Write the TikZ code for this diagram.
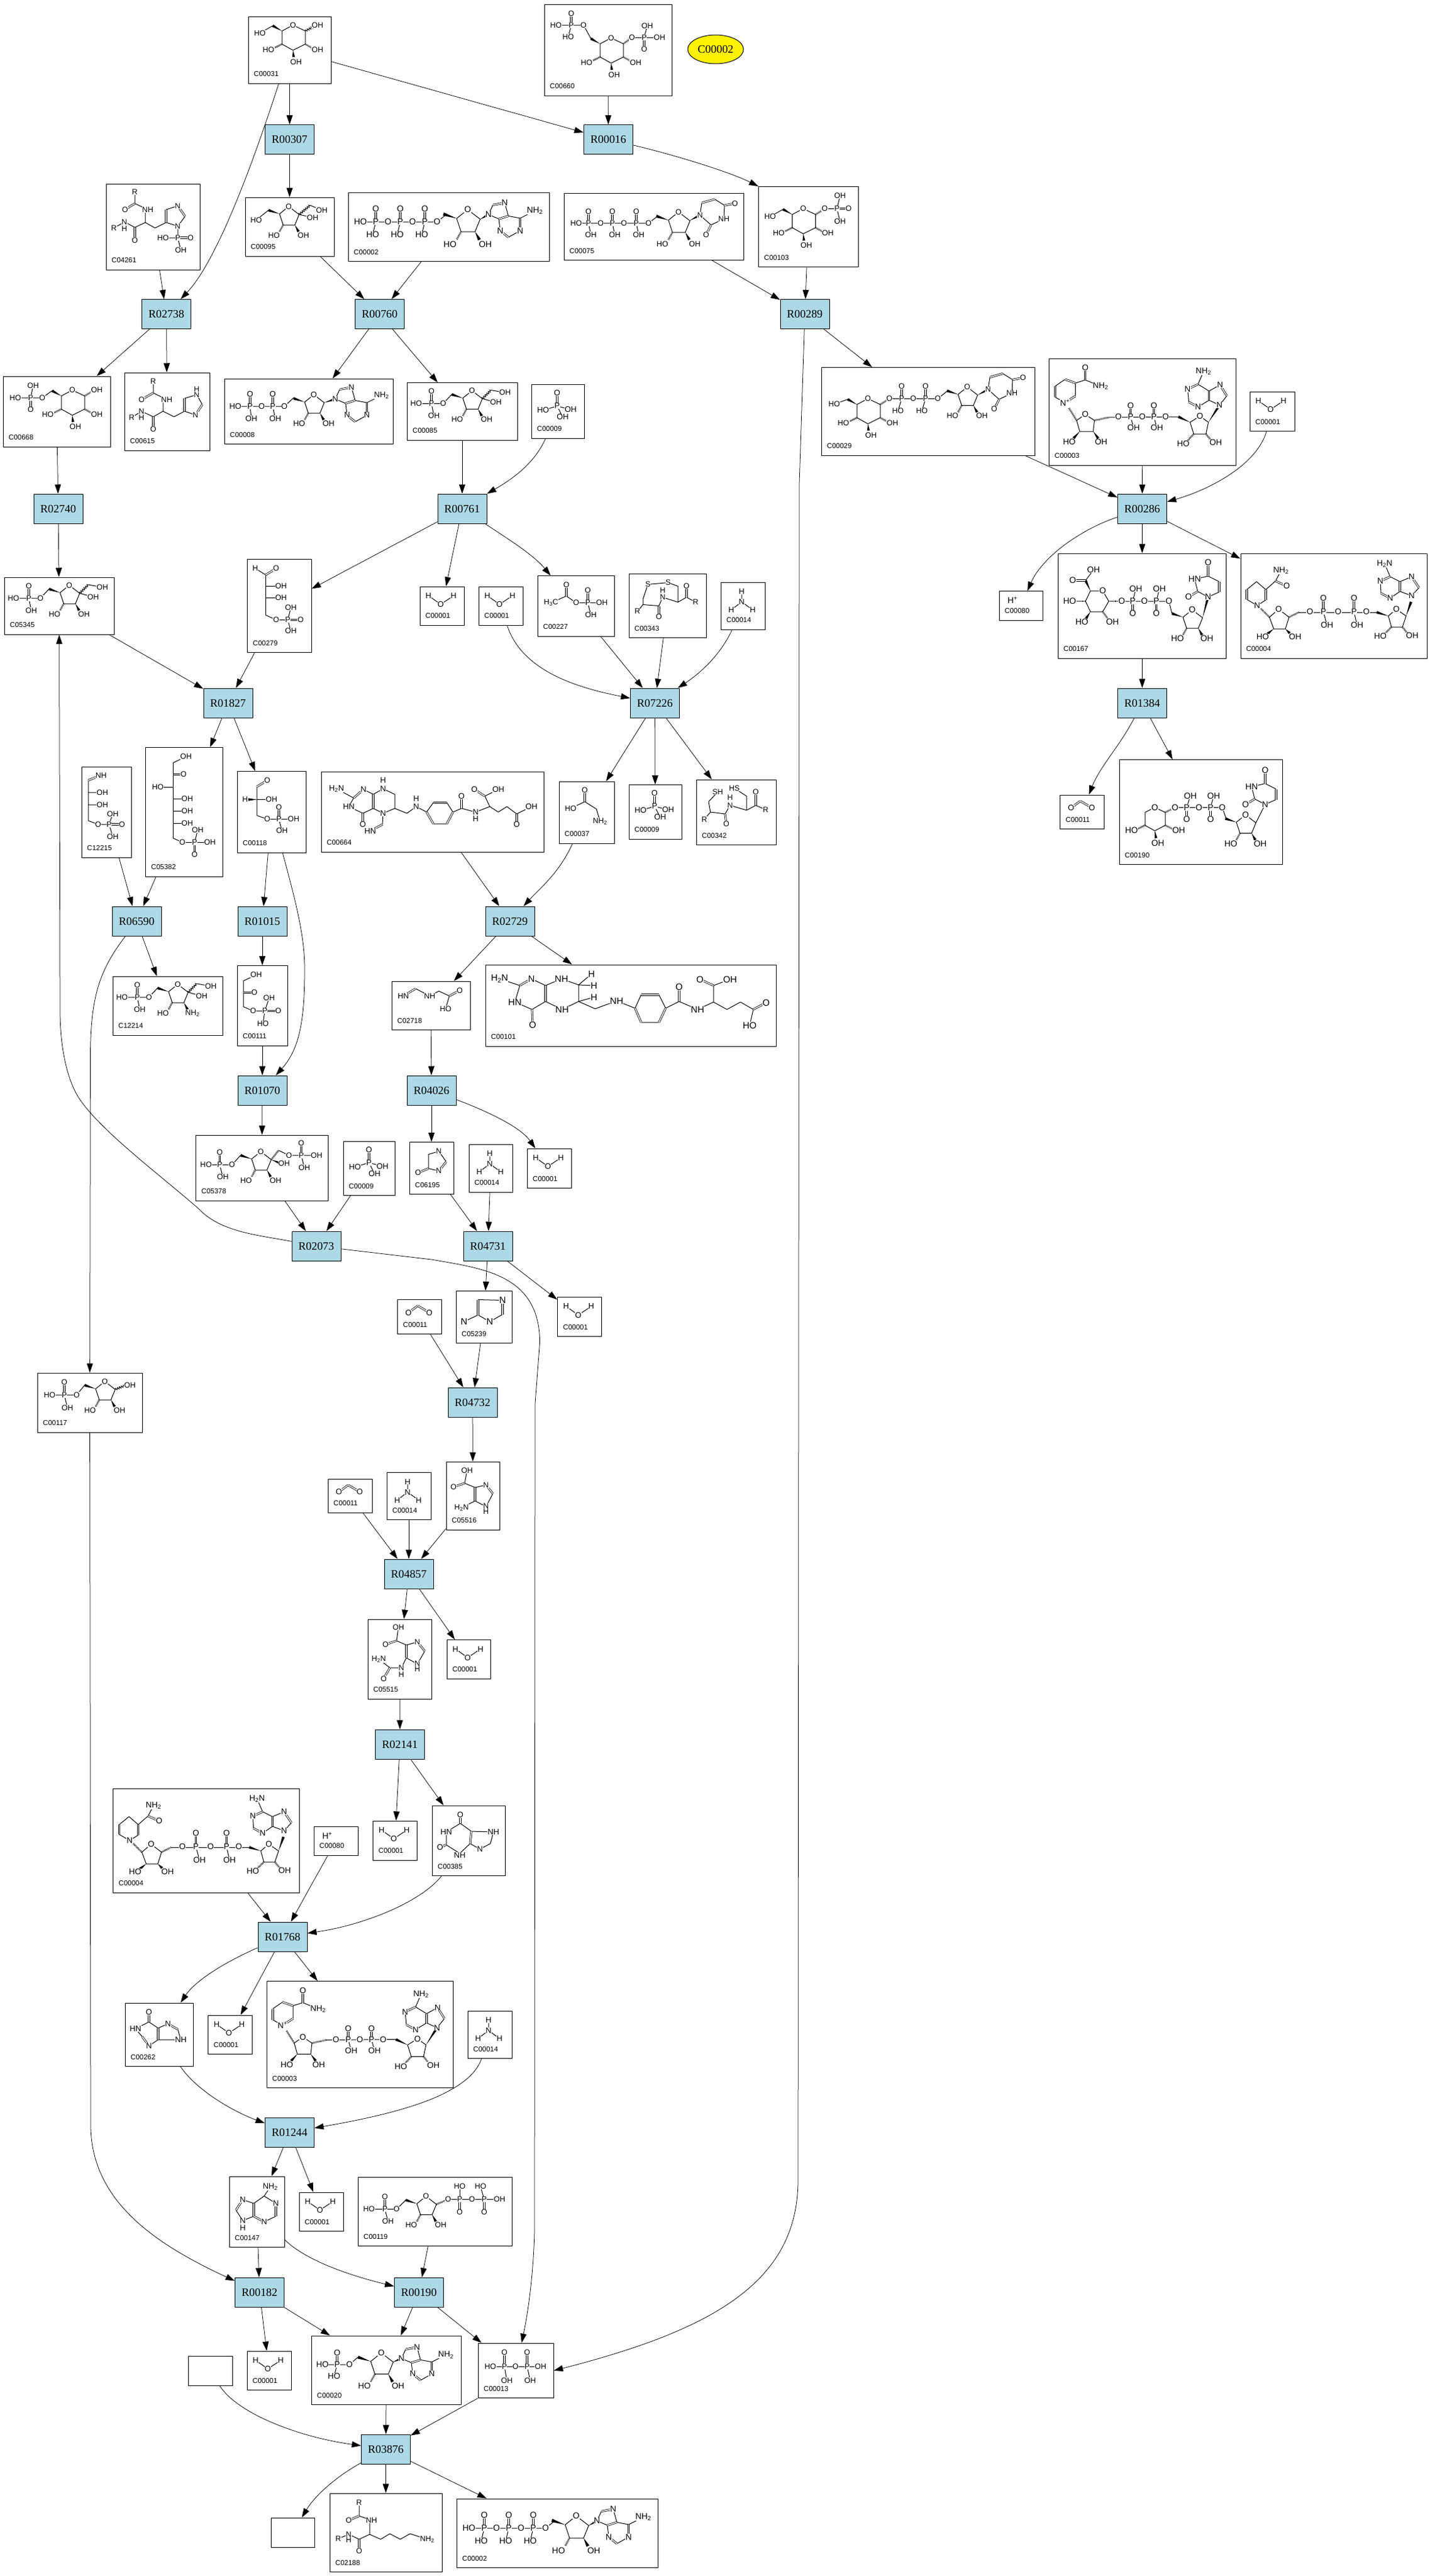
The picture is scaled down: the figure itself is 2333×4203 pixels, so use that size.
\documentclass[tikz,border=0pt]{standalone}
\usepackage{fontspec}
\setmainfont{Liberation Sans}
\newfontfamily\rmf{Liberation Serif}
\usetikzlibrary{arrows.meta,calc,shapes.geometric,decorations.pathmorphing}
\newcounter{atomc}
\def\ms{12.5}
\definecolor{lightb}{HTML}{ADD8E6}
\tikzset{
 bd/.style={line width=1pt,line join=round},
 dbl/.style={line width=.8pt,double,double distance=1.6pt},
 hs/.style={line width=2.8pt,dash pattern=on .8pt off 1.1pt},
 wv/.style={line width=1pt,decorate,decoration={zigzag,segment length=3.5pt,amplitude=1.6pt}},
 atm/.style={fill=white,inner sep=.3pt,font=\fontsize{\ms}{\ms}\selectfont},
 lbl/.style={anchor=west,inner sep=0pt,font=\fontsize{11.5}{12}\selectfont},
 cbox/.style={draw,fill=white,line width=1pt,inner sep=0pt},
 rbox/.style={draw,fill=lightb,line width=1pt,inner sep=0pt,minimum width=80pt,minimum height=48pt,font=\rmf\fontsize{18.4}{20}\selectfont},
 ed/.style={draw,line width=.75pt,-{Triangle[length=15pt,width=10pt]}},
}
\newcommand\Bd[1]{\draw[bd] #1;}
\newcommand\Db[1]{\draw[dbl] #1;}
\newcommand\Hs[2]{\draw[hs] #1 -- #2;}
\newcommand\Wv[2]{\draw[wv] #1 -- #2;}
\newcommand\Wd[2]{\fill #1 -- ($#2!2.2pt!90:#1$) -- ($#2!2.2pt!-90:#1$) -- cycle;}
\gdef\atomq{}
\newcommand\AtF[2]{\node[atm] (a#1) at (q#1) {#2};}
\def\At(#1,#2)#3{\stepcounter{atomc}\coordinate (q\arabic{atomc}) at (#1,#2);\edef\tmpn{\arabic{atomc}}\xdef\atomq{\unexpanded\expandafter{\atomq}\noexpand\AtF{\tmpn}{\unexpanded{#3}}}}
\newcommand\Rn[3]{\node[rbox] (#1) at (#2,#3) {#1};}
\newcommand\Cmp[7]{\pgfmathsetmacro\bxw{#4-#2}\pgfmathsetmacro\bxh{#5-#3}%
 \node[cbox,minimum width=\bxw pt,minimum height=\bxh pt] (#1) at ({(#2+#4)/2},{(#3+#5)/2}) {};%
 \begin{scope}[shift={(#2,#3)}]#7\atomq\gdef\atomq{}\node[lbl] (#1t) at (9,\bxh-15) {#6};\end{scope}}
% fragments
\newcommand\Pup[5]{\Db{(#1,#2)--(#1,#2-#3)}\Bd{(#1,#2)--(#1+#4,#2+#3)}\At(#1,#2){P}\At(#1,#2-#3){O}\At(#1+#4,#2+#3){#5}}
\newcommand\Pdn[5]{\Db{(#1,#2)--(#1,#2+#3)}\Bd{(#1,#2)--(#1+#4,#2-#3)}\At(#1,#2){P}\At(#1,#2+#3){O}\At(#1+#4,#2-#3){#5}}
\newcommand\PyrF[2]{\begin{scope}[shift={(#1,#2)}]\Bd{(0,0)--(20,9.5)--(20,31)--(0,41)--(-18,31)--(-18,9.5)--cycle}\Hs{(20,31)}{(31,37)}\Hs{(-18,31)}{(-30,37)}\Wd{(0,41)}{(1,52)}\Wd{(-18,9.5)}{(-33,1)}\At(0,0){O}\At(-40,40){HO}\At(40,40){OH}\At(5,60){OH}\end{scope}}
\newcommand\FurF[4][OH]{\begin{scope}[shift={(#2,#3)},scale=#4]\Bd{(0,0)--(17,13)--(10,30)--(-9,30)--(-15,12)--cycle}\Hs{(-9,30)}{(-15,41)}\Wd{(10,30)}{(16,41)}\Wd{(-15,12)}{(-33,6)}\At(0,0){O}\At(-24,47){HO}\At(24,47){#1}\end{scope}}
\newcommand\AdnF[3]{\begin{scope}[shift={(#1,#2)},scale=#3]\Bd{(0,0)--(6,-13) (22,-16)--(27,2)--(43,5) (14,6)--(0,0) (14,6)--(16,22) (27,31)--(43,22) (43,5)--(63,-5)}\Db{(6,-13)--(22,-16)}\Db{(27,2)--(14,6)}\Db{(16,22)--(27,31)}\Db{(43,22)--(43,5)}\At(0,0){N}\At(22,-16){N}\At(16,22){N}\At(43,22){N}\At(63,-5){NH\textsubscript{2}}\end{scope}}
\newcommand\UraA[2]{\begin{scope}[shift={(#1,#2)}]\Bd{(0,0)--(3,-20) (24,-26)--(40,-16)--(39,6)--(18,16)--(0,0)}\Db{(3,-20)--(24,-26)}\Db{(40,-16)--(57,-19)}\Db{(18,16)--(10,32)}\At(0,0){N}\At(39,6){NH}\At(57,-19){O}\At(10,32){O}\end{scope}}
\newcommand\UraB[2]{\begin{scope}[shift={(#1,#2)}]\Bd{(0,0)--(18,-8) (18,-25)--(0,-34)--(-22,-29)--(-17,-9)--(0,0)}\Db{(18,-8)--(18,-25)}\Db{(0,-34)--(0,-56)}\Db{(-17,-9)--(-32,0)}\At(0,0){N}\At(-22,-29){HN}\At(0,-56){O}\At(-32,0){O}\end{scope}}
% molecules
\newcommand\mWat{\def\ms{13}\Bd{(14,15)--(34,29)--(55,15)}\At(14,15){H}\At(34,29){O}\At(55,15){H}}
\newcommand\mNH{\def\ms{13}\Bd{(34,15)--(34,32)--(17,45) (34,32)--(52,45)}\At(34,15){H}\At(34,32){N}\At(17,45){H}\At(52,45){H}}
\newcommand\mCO{\def\ms{13}\Db{(18,21)--(33,10)}\Db{(33,10)--(52,21)}\At(18,21){O}\At(52,21){O}}
\newcommand\mPi{\def\ms{13}\Db{(42,14)--(42,35)}\Bd{(42,35)--(19,42) (42,35)--(64,41) (42,35)--(51,53)}\At(42,14){O}\At(42,35){P}\At(19,42){HO}\At(64,41){OH}\At(51,53){OH}}
\newcommand\mHp{\def\ms{14}\At(22,15){H\textsuperscript{+}}}
\newcommand\mATP{\def\ms{14}\Bd{(20,48)--(145,48)--(160,36)}\Pup{45}{48}{21}{-5}{HO}\Pup{85}{48}{21}{-5}{HO}\Pup{125}{48}{21}{-5}{HO}\At(20,48){HO}\At(65,48){O}\At(105,48){O}\At(145,48){O}\FurF{195}{28}{1.2}\Wd{(215,44)}{(229,36)}\AdnF{229}{36}{1.2}}
\newcommand\mADP{\def\ms{13}\Bd{(18,45)--(98,45)--(113,31)}\Pup{42}{45}{20}{2}{OH}\Pup{79}{45}{20}{4}{OH}\At(18,45){HO}\At(61,45){O}\At(98,45){O}\FurF{146}{26}{1}\Wd{(163,39)}{(181,33)}\AdnF{181}{33}{1.2}}
\newcommand\mAMP{\def\ms{13.5}\Bd{(18,47)--(62,47)--(76,35)}\Pup{42}{47}{19}{-5}{HO}\At(18,47){HO}\At(62,47){O}\FurF{114}{28}{1.15}\Wd{(133,43)}{(147,37)}\AdnF{147}{37}{1.15}}
\newcommand\mUTP{\Bd{(20,49)--(138,49)--(154,37)}\Pup{40}{49}{19}{4}{OH}\Pup{79}{49}{19}{4}{OH}\Pup{118}{49}{19}{4}{OH}\At(20,49){HO}\At(60,49){O}\At(98,49){O}\At(138,49){O}\FurF{187}{31}{1.1}\Wd{(205,45)}{(222,36)}\UraA{222}{36}}
\newcommand\mGlc{\PyrF{73}{14}\Bd{(40,15)--(19,27)}\Wv{(93,23.5)}{(106,17)}\At(19,27){HO}\At(113,14){OH}}
\newcommand\mGPP{\PyrF{109}{55}\Bd{(76,56)--(64,34)--(19,34)}\Pup{44}{34}{19}{-5}{HO}\At(19,34){HO}\At(64,34){O}\Hs{(129,64.5)}{(143,54)}\Bd{(143,54)--(188,54)}\Pdn{163}{54}{19}{5}{OH}\At(143,54){O}\At(188,54){OH}}
\newcommand\mGoneP{\PyrF{73}{36}\Bd{(40,37)--(19,49)}\At(19,49){HO}\Hs{(93,45.5)}{(108,36)}\Bd{(108,36)--(128,36)--(133,15) (128,36)--(133,57)}\Db{(128,36)--(147,36)}\At(108,36){O}\At(128,36){P}\At(133,15){OH}\At(133,57){OH}\At(147,36){O}}
\newcommand\mGsixP{\PyrF{113}{22.5}\Bd{(80,23.5)--(64,35)--(20,35)}\Pdn{45}{35}{19.6}{4}{OH}\At(64,35){O}\At(20,35){HO}\Hs{(133,32)}{(145,25)}\At(153,22.5){OH}}
\newcommand\mUDPG{\PyrF{76}{51}\Bd{(43,52)--(21,60)}\At(21,60){HO}\Hs{(96,60.5)}{(111,51)}\Bd{(111,51)--(190,51)--(206,38)}\Pup{131}{51}{20}{-6}{HO}\Pup{170}{51}{20}{-6}{HO}\At(111,51){O}\At(150,51){O}\At(190,51){O}\FurF{238}{32}{1}\Wd{(255,45)}{(272,36)}\UraA{272}{36}}
\newcommand\mUDPGA{\def\ms{14}\Bd{(73,61)--(83,78)--(73,95)--(53,95)--(45,78)--(53,61)--cycle}\Hs{(45,78)}{(30,78)}\Wd{(53,95)}{(46,106)}\Hs{(73,95)}{(81,106)}\Hs{(83,78)}{(104,78)}\Wd{(53,61)}{(45,44)}\Db{(45,44)--(24,44)}\Bd{(45,44)--(58,27)}\At(73,61){O}\At(19,78){HO}\At(39,112){HO}\At(89,112){OH}\At(24,44){O}\At(58,27){OH}\Bd{(104,78)--(181,78)--(186,98)}\Pdn{122}{78}{20}{5}{OH}\Pdn{160.5}{78}{20}{5}{OH}\At(104,78){O}\At(141,78){O}\At(181,78){O}\FurF{219}{92}{1}\Wd{(236,105)}{(245,71)}\UraB{245}{71}}
\newcommand\mUDPX{\def\ms{14}\Bd{(58,78)--(75,86)--(75,107)--(58,116)--(42,107)--(42,86)--cycle}\Hs{(42,107)}{(30,113)}\Hs{(75,107)}{(87,113)}\Wd{(58,116)}{(60,128)}\Hs{(75,86)}{(91,78)}\At(58,78){O}\At(20,115){HO}\At(97,115){OH}\At(63,136){OH}\Bd{(91,78)--(168,78)--(174,95)}\Pdn{110}{78}{19}{6}{OH}\Pdn{149}{78}{19}{5}{OH}\At(91,78){O}\At(130,78){O}\At(168,78){O}\FurF{206}{90}{1}\Bd{(223,103)--(238,73)}\UraB{238}{73}}
\newcommand\mFsix[1]{\Bd{(73,19)--(59,34)--(15,34)}\Pup{40}{34}{20}{4}{OH}\At(59,34){O}\At(15,34){HO}\FurF[#1]{106}{13}{1}\Wv{(123,26)}{(137,12)}\Bd{(137,12)--(160,16) (123,26)--(145,32)}\At(160,16){OH}\At(145,32){OH}}
\newcommand\mFru{\FurF{71}{15}{1}\Bd{(38,21)--(18,37)}\At(18,37){HO}\Wv{(88,28)}{(106,13)}\Bd{(106,13)--(125,21) (88,28)--(110,33)}\At(125,21){OH}\At(110,33){OH}}
\newcommand\mFBP{\Bd{(73,33)--(59,48.5)--(16.6,48.5)}\Pup{39}{48.5}{20}{5}{OH}\At(59,48.5){O}\At(16.6,48.5){HO}\FurF{106}{27}{1}\Hs{(123,40)}{(135,25)}\Bd{(135,25)--(152,33)--(197,33)}\Pup{172}{33}{20}{5}{OH}\Wd{(123,40)}{(138,46)}\At(152,33){O}\At(197,33){OH}\At(144,46){OH}}
\newcommand\mRfP{\Bd{(77,20)--(64,36)--(20,36)}\Pup{44}{36}{21}{5}{OH}\At(64,36){O}\At(20,36){HO}\FurF{110}{14}{1}\Wv{(127,27)}{(142,21)}\At(151,20){OH}}
\newcommand\mPRPP{\Bd{(78,37)--(63,52)--(18,52)}\Pup{44}{52}{20}{5}{OH}\At(63,52){O}\At(18,52){HO}\FurF{111}{31}{1}\Hs{(128,44)}{(147,36)}\Bd{(147,36)--(231,36)}\Pdn{166}{36}{21}{0}{HO}\Pdn{206}{36}{21}{-6}{HO}\At(147,36){O}\At(186,36){O}\At(231,36){OH}}
\newcommand\mPPi{\Bd{(20,38)--(102,38)}\Pup{43}{38}{23}{4}{OH}\Pup{80}{38}{23}{5}{OH}\At(20,38){HO}\At(61,38){O}\At(102,38){OH}}
\newcommand\mNADp{\def\ms{13.5}\Bd{(26,72)--(10,63) (10,45)--(26,34) (43,40)--(43,61) (43,40)--(59,35)--(84,45)}\Db{(10,63)--(10,45)}\Db{(26,34)--(43,40)}\Db{(43,61)--(26,72)}\Db{(59,35)--(59,15)}\At(26,72){N\textsuperscript{+}}\At(84,45){NH\textsubscript{2}}\At(59,15){O}%
\Bd{(59,91)--(74,101)--(72,119)--(50,119)--(45,101)--cycle}\Hs{(45,101)}{(32,80)}\Wd{(50,119)}{(40,130)}\Wd{(72,119)}{(80,130)}\Hs{(74,101)}{(97,96)}\At(59,91){O}\At(33,136){HO}\At(85,136){OH}\Bd{(97,96)--(211,95)}\Pup{133}{95}{18}{5}{OH}\Pup{171}{95}{18}{5}{OH}\At(113,95){O}\At(152,95){O}\At(190,95){O}\Wd{(230,104)}{(211,95)}%
\Bd{(246,94)--(260,104)--(256,123)--(236,123)--(230,104)--cycle}\Hs{(236,123)}{(226,134)}\Hs{(256,123)}{(264,133)}\Wd{(260,104)}{(278,76)}\At(246,94){O}\At(219,139){HO}\At(272,137){OH}%
\Bd{(278,76)--(290,61) (279,43)--(261,53)--(243,42) (261,68)--(278,76) (261,68)--(243,79) (228,71)--(226,50) (243,42)--(252,21)}\Db{(290,61)--(279,43)}\Db{(261,53)--(261,68)}\Db{(243,79)--(228,71)}\Db{(226,50)--(243,42)}\At(278,76){N}\At(279,43){N}\At(243,79){N}\At(226,50){N}\At(252,21){NH\textsubscript{2}}}
\newcommand\mNADH{\def\ms{13.5}\Bd{(27,85)--(10,75) (10,59)--(26,46)--(41,59) (41,76)--(27,85) (41,59)--(57,45)--(66,28)}\Db{(10,75)--(10,59)}\Db{(41,59)--(41,76)}\Db{(57,45)--(75,53)}\At(27,85){N}\At(75,53){O}\At(66,28){NH\textsubscript{2}}%
\Bd{(62,91)--(79,104)--(73,123)--(54,123)--(47,104)--cycle}\Hs{(47,104)}{(33,90)}\Wd{(54,123)}{(44,131)}\Wd{(73,123)}{(80,130)}\Hs{(79,104)}{(95,96)}\At(62,91){O}\At(36,136){HO}\At(89,136){OH}\Bd{(95,96)--(222,96)}\Pup{135}{95}{22}{6}{OH}\Pup{185}{95}{22}{5}{OH}\At(113,95){O}\At(159,95){O}\At(205,95){O}\Wd{(241,102)}{(222,96)}%
\Bd{(254,91)--(270,102)--(264,120)--(246,120)--(241,102)--cycle}\Hs{(246,120)}{(236,130)}\Hs{(264,120)}{(272,130)}\Wd{(270,102)}{(278,79)}\At(254,91){O}\At(228,135){HO}\At(280,134){OH}%
\Bd{(279,69)--(291,56) (279,38)--(260,46)--(244,38) (260,62)--(279,69) (260,62)--(244,73) (229,65)--(228,45) (244,38)--(235,17)}\Db{(291,56)--(279,38)}\Db{(260,46)--(260,62)}\Db{(244,73)--(229,65)}\Db{(228,45)--(244,38)}\At(279,69){N}\At(279,38){N}\At(244,73){N}\At(228,45){N}\At(235,17){H\textsubscript{2}N}}
\begin{document}
\begin{tikzpicture}[x=1pt,y=-1pt]
\useasboundingbox (0,0) rectangle (2333,4203);
\fill[white] (0,0) rectangle (2333,4203);
% reactions
\Rn{R00307}{472.5}{227.5}\Rn{R00016}{992.5}{227.5}\Rn{R02738}{271.5}{512.5}\Rn{R00760}{619.5}{512.5}\Rn{R00289}{1313}{512.5}
\Rn{R02740}{95}{830}\Rn{R00761}{754}{830}\Rn{R00286}{1863.5}{830}\Rn{R01827}{372}{1147}\Rn{R07226}{1068.5}{1147}\Rn{R01384}{1863.5}{1147}
\Rn{R06590}{223}{1503}\Rn{R01015}{428}{1503}\Rn{R02729}{832}{1503}\Rn{R01070}{428}{1779}\Rn{R04026}{704}{1779}\Rn{R02073}{516}{2033}\Rn{R04731}{796}{2033}
\Rn{R04732}{771}{2288}\Rn{R04857}{667}{2568}\Rn{R02141}{652.5}{2846}\Rn{R01768}{461}{3160}\Rn{R01244}{472.5}{3479}\Rn{R00182}{423.5}{3740}\Rn{R00190}{683.5}{3740}\Rn{R03876}{629.5}{3996}
\node[draw,ellipse,fill=yellow,line width=1pt,inner sep=0pt,minimum width=91pt,minimum height=47pt,font=\rmf\fontsize{18.4}{20}\selectfont] (cmain) at (1167.5,80.5) {C00002};
% compounds
\Cmp{c31}{405}{27}{540}{136}{C00031}{\mGlc}
\Cmp{c660}{888}{7}{1096}{156}{C00660}{\mGPP}
\Cmp{c4261}{173}{300}{326}{440}{C04261}{\Bd{(47,13)--(47,32)--(68,42) (64,42)--(64,63)--(47,71)--(30,62)--(13,72) (64,63)--(80,72)--(98,63) (98,42)--(117,36) (129,53)--(117,69)--(98,63) (117,69)--(117,88)--(93,88) (117,88)--(122,108)}\Db{(47,32)--(31,42)}\Db{(47,71)--(47,92)}\Db{(98,63)--(98,42)}\Db{(117,36)--(129,53)}\Db{(117,88)--(138,88)}\At(47,13){R}\At(31,42){O}\At(68,42){NH}\At(47,92){O}\At(30,62){N}\At(30,73){H}\At(13,72){R}\At(117,36){N}\At(117,69){N}\At(117,88){P}\At(93,88){HO}\At(138,88){O}\At(122,108){OH}}
\Cmp{c95}{400}{322}{545}{418}{C00095}{\mFru}
\Cmp{c2a}{568}{314}{896}{426.5}{C00002}{\mATP}
\Cmp{c75}{920}{315}{1213}{424.5}{C00075}{\mUTP}
\Cmp{c103}{1237.5}{304.5}{1400}{435.5}{C00103}{\mGoneP}
\Cmp{c668}{5}{614}{180}{729}{C00668}{\mGsixP}
\Cmp{c615}{203}{608}{342}{735}{C00615}{\Bd{(47,14)--(47,33)--(69,44) (63,44)--(63,63)--(47,72)--(28,63)--(12,73) (63,63)--(81,72)--(98,63) (98,42)--(118,36)--(127,52) (116,69)--(98,63)}\Db{(47,33)--(28,44)}\Db{(47,72)--(47,92)}\Db{(98,63)--(98,42)}\Db{(127,52)--(116,69)}\At(47,14){R}\At(28,44){O}\At(69,44){NH}\At(47,92){O}\At(28,63){N}\At(28,73){H}\At(12,73){R}\At(118,36){N}\At(118,27){H}\At(116,69){N}}
\Cmp{c8}{366}{618}{641}{724.5}{C00008}{\mADP}
\Cmp{c85}{664}{624.5}{844}{718}{C00085}{\mFsix{OH}}
\Cmp{pi1}{867}{627.5}{953}{715}{C00009}{\mPi}
\Cmp{c29}{1340}{599.5}{1688}{743}{C00029}{\mUDPG}
\Cmp{nad1}{1711.5}{585}{2016}{759}{C00003}{\mNADp}
\Cmp{w1}{2039}{639}{2112}{703.5}{C00001}{\mWat}
\Cmp{c5345}{7}{942}{186}{1035}{C05345}{\mFsix{OH}}
\Cmp{c279}{403.5}{912.5}{508}{1064.5}{C00279}{\Bd{(13,15)--(30,25.5)--(30,91)--(47,99)--(66,99)--(71,79) (66,99)--(71,117) (30,44)--(55,44) (30,63)--(55,63)}\Db{(30,25.5)--(47,15)}\Db{(66,99)--(87,99)}\At(13,15){H}\At(47,15){O}\At(55,44){OH}\At(55,63){OH}\At(47,99){O}\At(66,99){P}\At(71,79){OH}\At(87,99){O}\At(71,117){OH}}
\Cmp{w2}{685}{957}{757}{1020}{C00001}{\mWat}
\Cmp{w3}{781}{957}{853}{1020}{C00001}{\mWat}
\Cmp{c227}{877}{939.5}{1002}{1038}{C00227}{\Bd{(22,44)--(47,33)--(63,44)--(82,44)--(105,44) (82,44)--(87,64)}\Db{(47,33)--(47,15)}\Db{(82,44)--(82,24)}\At(22,44){H\textsubscript{3}C}\At(47,15){O}\At(63,44){O}\At(82,44){P}\At(105,44){OH}\At(82,24){O}\At(87,64){OH}}
\Cmp{c343}{1026}{936.5}{1152}{1040.5}{C00343}{\Bd{(31,17)--(64,14)--(80,20)--(80,46)--(55,38) (31,17)--(23,41)--(23,50)--(14,61) (23,50)--(49,52)--(55,38) (80,46)--(94,38)--(109,46)}\Db{(49,52)--(49,70)}\Db{(94,38)--(94,20)}\At(31,17){S}\At(64,14){S}\At(14,61){R}\At(49,70){O}\At(55,38){N}\At(55,27){H}\At(94,20){O}\At(109,46){R}}
\Cmp{nh1}{1176}{950}{1248}{1027}{C00014}{\mNH}
\Cmp{c5382}{237.5}{1219.5}{363}{1430}{C05382}{\Bd{(66,15)--(45,25)--(45,148)--(60,155)--(105,155) (20,65)--(45,65) (45,84)--(68,84) (45,104)--(68,104) (45,124)--(68,124) (80,155)--(85,135)}\Db{(45,44)--(62,44)}\Db{(80,155)--(80,175)}\At(66,15){OH}\At(62,44){O}\At(20,65){HO}\At(68,84){OH}\At(68,104){OH}\At(68,124){OH}\At(60,155){O}\At(80,155){P}\At(85,135){OH}\At(105,155){OH}\At(80,175){O}}
\Cmp{c12215}{133}{1251}{214}{1399}{C12215}{\Bd{(11,22)--(11,88)--(27,94)--(45,94)--(51,77) (45,94)--(51,114) (11,42)--(34,42) (11,62)--(34,62)}\Db{(32,14)--(11,22)}\Db{(45,94)--(66,94)}\At(32,14){NH}\At(34,42){OH}\At(34,62){OH}\At(27,94){O}\At(45,94){P}\At(51,77){OH}\At(66,94){O}\At(51,114){OH}}
\Cmp{c118}{387}{1258.5}{499}{1391}{C00118}{\Bd{(32,25)--(32,72)--(49,78)--(92,78) (68,78)--(73,97) (32,46)--(56,46)}\Wd{(32,46)}{(18,46)}\Db{(32,25)--(49,15)}\Db{(68,78)--(68,59)}\At(49,15){O}\At(13,46){H}\At(56,46){OH}\At(49,78){O}\At(68,78){P}\At(68,59){O}\At(92,78){OH}\At(73,97){OH}}
\Cmp{c664}{524}{1259}{887}{1390}{C00664}{\def\ms{13}\Bd{(25,28)--(53,43)--(45,57)--(68,68)--(85,60)--(101,68)--(120,60)--(120,37)--(101,28)--(85,37)--(69,29) (101,68)--(100,86) (120,60)--(140,68)--(155,57)--(172,66) (215,66)--(229,60)--(252,66)--(275,57)--(289,66)--(303,57)--(319,69)--(343,57) (275,57)--(267,40)--(289,29) (172,66)--(183,50.5) (205,50.5)--(215,66) (205,85)--(183,85)}\Db{(53,43)--(69,29)}\Db{(85,60)--(85,37)}\Db{(68,68)--(68,86)}\Db{(100,86)--(80,97)}\Db{(183,50.5)--(205,50.5)}\Db{(215,66)--(205,85)}\Db{(183,85)--(172,66)}\Db{(229,60)--(229,40)}\Db{(267,40)--(250,29)}\Db{(319,69)--(319,86)}\At(25,28){H\textsubscript{2}N}\At(69,29){N}\At(101,28){N}\At(101,14){H}\At(45,57){HN}\At(101,68){N}\At(68,86){O}\At(80,97){HN}\At(155,57){N}\At(155,44){H}\At(229,40){O}\At(252,66){N}\At(252,77){H}\At(250,29){O}\At(289,29){OH}\At(343,57){OH}\At(319,86){O}}
\Cmp{c37}{912}{1275}{1002}{1376}{C00037}{\Bd{(19,44)--(42,33)--(61,45)--(67,65)}\Db{(42,33)--(42,14)}\At(42,14){O}\At(19,44){HO}\At(67,65){NH\textsubscript{2}}}
\Cmp{pi2}{1026}{1280.5}{1112}{1369}{C00009}{\mPi}
\Cmp{c342}{1136}{1272}{1266}{1378.5}{C00342}{\Bd{(35,20)--(20,36)--(23,53)--(13,65) (23,53)--(47,56)--(55,42)--(82,50)--(82,27)--(62,14) (82,50)--(97,42)--(113,49)}\Db{(47,56)--(49,72)}\Db{(97,42)--(97,20)}\At(35,20){SH}\At(13,65){R}\At(49,72){O}\At(55,42){N}\At(55,29){H}\At(62,14){HS}\At(97,20){O}\At(113,49){R}}
\Cmp{c12214}{184}{1593}{363}{1689}{C12214}{\mFsix{NH\textsubscript{2}}}
\Cmp{c111}{387}{1575.5}{469}{1706}{C00111}{\Bd{(31,15)--(10,25)--(10,67)--(26,74)--(45,74)--(52,53) (45,74)--(42,95)}\Db{(10,44)--(28,44)}\Db{(45,74)--(67,74)}\At(31,15){OH}\At(28,44){O}\At(26,74){O}\At(45,74){P}\At(52,53){OH}\At(67,74){O}\At(42,95){HO}}
\Cmp{c2718}{639}{1601}{767}{1680.5}{C02718}{\Bd{(39,12)--(62,24)--(77,16)--(94,24)--(88,45)}\Db{(19,24)--(39,12)}\Db{(94,24)--(111,15)}\At(19,24){HN}\At(62,24){NH}\At(111,15){O}\At(88,45){HO}}
\Cmp{c101}{792}{1574}{1266}{1707}{C00101}{\def\ms{15}\Bd{(23,23)--(56,34)--(48,61)--(76,73)--(98,60)--(125,73)--(152,60)--(152,33)--(124,23)--(98,34)--(75,23) (152,33)--(173,15) (152,33)--(177,34) (152,60)--(177,53) (152,60)--(179,72)--(214,59)--(244,71)--(254,49) (283,49)--(294,71)--(316,60)--(346,73)--(372,61)--(394,73)--(416,61)--(437,73)--(431,99) (372,61)--(372,34)--(399,24) (283,94)--(254,94)}\Db{(56,34)--(75,23)}\Db{(98,60)--(98,34)}\Db{(76,73)--(77,98)}\Db{(254,49)--(283,49)}\Db{(294,71)--(283,94)}\Db{(254,94)--(244,71)}\Db{(316,60)--(316,36)}\Db{(372,34)--(350,24)}\Db{(437,73)--(458,62)}\At(23,23){H\textsubscript{2}N}\At(75,23){N}\At(124,23){NH}\At(173,15){H}\At(177,34){H}\At(177,53){H}\At(125,73){NH}\At(77,98){O}\At(48,61){HN}\At(214,59){NH}\At(316,36){O}\At(346,73){NH}\At(350,24){O}\At(399,24){OH}\At(458,62){O}\At(431,99){HO}}
\Cmp{c80a}{1630}{964.5}{1701}{1012}{C00080}{\mHp}
\Cmp{c167}{1726}{903}{2000.5}{1074}{C00167}{\mUDPGA}
\Cmp{nadh1}{2024}{903}{2328}{1074}{C00004}{\mNADH}
\Cmp{co1}{1729.5}{1297}{1801}{1352.5}{C00011}{\mCO}
\Cmp{c190}{1826}{1239.5}{2092}{1410.5}{C00190}{\mUDPX}
\Cmp{c5378}{319.5}{1852}{535}{1959}{C05378}{\mFBP}
\Cmp{pi3}{560}{1862}{644}{1950.5}{C00009}{\mPi}
\Cmp{c6195}{668}{1863.5}{740}{1948.5}{C06195}{\Bd{(48,15)--(31,20)--(31,43)--(48,47) (48,15)--(60,32)}\Db{(60,32)--(48,47)}\Db{(31,43)--(14,50)}\At(48,15){N}\At(48,47){N}\At(14,50){O}}
\Cmp{nh2}{765}{1867}{836}{1945}{C00014}{\mNH}
\Cmp{w4}{860}{1874}{932}{1938.5}{C00001}{\mWat}
\Cmp{co2}{648.5}{2120.5}{720.5}{2176.5}{C00011}{\mCO}
\Cmp{c5239}{744}{2106.5}{835.5}{2191.5}{C05239}{\def\ms{15}\Bd{(76,15)--(36,14) (76,38)--(55,50)--(36,39)--(13,50)}\Db{(36,14)--(36,39)}\Db{(76,15)--(76,38)}\At(76,15){N}\At(55,50){N}\At(13,50){N}}
\Cmp{w5}{909.5}{2116.5}{981.5}{2180.5}{C00001}{\mWat}
\Cmp{c117}{61}{2240}{232}{2337}{C00117}{\mRfP}
\Cmp{c5516}{728}{2385}{815}{2496}{C05516}{\Bd{(34,14)--(30,35)--(47,42)--(65,38) (76,52)--(65,73)--(47,64)--(25,75)}\Db{(30,35)--(12,41)}\Db{(47,42)--(47,64)}\Db{(65,38)--(76,52)}\At(34,14){OH}\At(12,41){O}\At(65,38){N}\At(65,72){N}\At(65,81){H}\At(25,75){H\textsubscript{2}N}}
\Cmp{co3}{535}{2413}{607}{2468}{C00011}{\mCO}
\Cmp{nh3}{631}{2402.5}{703}{2479.5}{C00014}{\mNH}
\Cmp{c5515}{600}{2642}{704}{2772}{C05515}{\Bd{(50,13)--(47,35)--(63,42)--(81,37) (93,52)--(81,73)--(63,63)--(55,79)--(36,79)--(18,65)}\Db{(47,35)--(29,41)}\Db{(63,42)--(63,63)}\Db{(81,37)--(93,52)}\Db{(36,79)--(26,97)}\At(50,13){OH}\At(29,41){O}\At(81,37){N}\At(81,72){N}\At(81,81){H}\At(55,79){N}\At(55,90){H}\At(18,65){H\textsubscript{2}N}\At(26,97){O}}
\Cmp{w6}{729}{2675.5}{800}{2739}{C00001}{\mWat}
\Cmp{w7}{608.5}{2971}{680.5}{3035}{C00001}{\mWat}
\Cmp{c385}{705}{2946}{824.5}{3060.5}{C00385}{\def\ms{13}\Bd{(46,29)--(23,43)--(23,64)--(45,78)--(62,62)--(78,71)--(95,62)--(100,43)--(64,42)--(46,29)}\Db{(46,29)--(46,15)}\Db{(23,64)--(13,68)}\Db{(62,62)--(64,42)}\At(46,15){O}\At(23,43){HN}\At(13,68){O}\At(45,81){NH}\At(78,71){N}\At(100,43){NH}}
\Cmp{nadh2}{184.5}{2918}{488.5}{3088}{C00004}{\mNADH}
\Cmp{c80b}{512}{2980}{584}{3027}{C00080}{\mHp}
\Cmp{c262}{204}{3268}{315}{3371}{C00262}{\def\ms{13}\Bd{(39,31)--(17,42)--(28,55) (39,70)--(54,60)--(91,60)--(86,43) (70,34)--(54,41)--(39,31)}\Db{(39,31)--(39,15)}\Db{(28,55)--(39,70)}\Db{(54,60)--(54,41)}\Db{(70,34)--(86,43)}\At(39,15){O}\At(17,42){HN}\At(39,70){N}\At(70,34){N}\At(91,60){NH}}
\Cmp{w8}{339.5}{3288}{411}{3351.5}{C00001}{\mWat}
\Cmp{nad2}{435}{3232.5}{739}{3406}{C00003}{\mNADp}
\Cmp{nh4}{763}{3281}{835}{3358}{C00014}{\mNH}
\Cmp{c147}{374}{3551}{464}{3666}{C00147}{\def\ms{13}\Bd{(67,17)--(57,32)--(40,44)--(22,38) (57,32)--(76,44) (76,65)--(57,74) (40,65)--(22,72)--(11,55)}\Db{(76,44)--(76,65)}\Db{(57,74)--(40,65)}\Db{(40,65)--(40,44)}\Db{(22,38)--(11,55)}\At(67,17){NH\textsubscript{2}}\At(76,44){N}\At(57,74){N}\At(22,38){N}\At(22,72){N}\At(22,84){H}}
\Cmp{w9}{488}{3577}{560}{3640}{C00001}{\mWat}
\Cmp{c119}{584}{3552.5}{835}{3664.5}{C00119}{\mPRPP}
\Cmp{w10}{403}{3836}{475}{3899.5}{C00001}{\mWat}
\Cmp{c20}{508}{3811}{752.5}{3923}{C00020}{\mAMP}
\Cmp{c13}{780}{3823}{903}{3912.5}{C00013}{\mPPi}
\Cmp{e1}{307}{3844}{379}{3892}{}{}
\Cmp{e2}{442}{4108}{513}{4156.5}{}{}
\Cmp{c2188}{538}{4068}{721}{4196}{C02188}{\Bd{(48,15)--(48,37)--(68,44) (65,47)--(65,67)--(48,75)--(31,67)--(14,74) (65,67)--(83,75)--(98,66)--(115,75)--(131,66)--(159,75)}\Db{(48,37)--(31,44)}\Db{(48,75)--(48,94)}\At(48,15){R}\At(31,44){O}\At(68,44){NH}\At(48,94){O}\At(31,67){N}\At(31,76){H}\At(14,74){R}\At(159,75){NH\textsubscript{2}}}
\Cmp{c2b}{745}{4077}{1073}{4189}{C00002}{\mATP}
% connectors
\draw[ed] (c31) -- (R00307);
\draw[ed] (c31) -- (R00016);
\draw[ed] (c31) .. controls (405,290) and (350,430) .. (R02738);
\draw[ed] (c660) -- (R00016);
\draw[ed] (R00016) .. controls (1090,250) and (1190,280) .. (c103.north west);
\draw[ed] (R00307) -- (c95);
\draw[ed] (c4261) -- (R02738);
\draw[ed] (c95) -- (R00760);
\draw[ed] (c2a) -- (R00760);
\draw[ed] (R02738) -- (c668);
\draw[ed] (R02738) -- (c615);
\draw[ed] (R00760) -- (c8);
\draw[ed] (R00760) -- (c85);
\draw[ed] (c75) -- (R00289);
\draw[ed] (c103) -- (R00289);
\draw[ed] (R00289) -- (c29);
\draw[ed] (R00289) -- (1304,790) -- (1302,3560) .. controls (1300,3720) and (1170,3800) .. (c13.east);
\draw[ed] (c29) -- (R00286);
\draw[ed] (nad1) -- (R00286);
\draw[ed] (w1) .. controls (2050,760) and (1970,800) .. (R00286);
\draw[ed] (c85) -- (R00761);
\draw[ed] (pi1) .. controls (870,760) and (830,785) .. (R00761.north east);
\draw[ed] (c668) -- (R02740);
\draw[ed] (R00761) -- (c279);
\draw[ed] (R00761) -- (w2);
\draw[ed] (R00761) .. controls (830,880) and (870,905) .. (c227);
\draw[ed] (R02740) -- (c5345);
\draw[ed] (c5345) -- (R01827);
\draw[ed] (c279) -- (R01827);
\draw[ed] (w3) .. controls (850,1090) and (930,1120) .. (R07226);
\draw[ed] (c227) -- (R07226);
\draw[ed] (c343) -- (R07226);
\draw[ed] (nh1) .. controls (1175,1070) and (1140,1100) .. (R07226);
\draw[ed] (R01827) -- (c5382);
\draw[ed] (R01827) -- (c118);
\draw[ed] (R07226) -- (c37);
\draw[ed] (R07226) -- (pi2);
\draw[ed] (R07226) -- (c342);
\draw[ed] (c12215) -- (R06590);
\draw[ed] (c5382) -- (R06590);
\draw[ed] (c118) -- (R01015);
\draw[ed] (c118) .. controls (485,1480) and (497,1530) .. (497,1581) .. controls (497,1660) and (490,1710) .. (R01070);
\draw[ed] (c664) -- (R02729);
\draw[ed] (c37) .. controls (912,1425) and (880,1450) .. (R02729);
\draw[ed] (R06590) -- (c12214);
\draw[ed] (R06590) .. controls (165,1580) and (148,1620) .. (147.5,1720) -- (c117);
\draw[ed] (R01015) -- (c111);
\draw[ed] (c111) -- (R01070);
\draw[ed] (R02729) -- (c2718);
\draw[ed] (R02729) -- (c101);
\draw[ed] (c2718) -- (R04026);
\draw[ed] (R01070) -- (c5378);
\draw[ed] (R04026) -- (c6195);
\draw[ed] (R04026) .. controls (800,1815) and (850,1840) .. (w4);
\draw[ed] (c5378) -- (R02073);
\draw[ed] (pi3) -- (R02073);
\draw[ed] (c6195) -- (R04731);
\draw[ed] (nh2) -- (R04731);
\draw[ed] (R02073) .. controls (420,2015) and (360,2010) .. (325,1973) .. controls (265,1920) and (170,1850) .. (131,1795) .. controls (110,1765) and (98,1710) .. (98,1650) -- (c5345);
\draw[ed] (R02073) -- (704,2055) .. controls (790,2070) and (880,2080) .. (880.6,2190) -- (873,2290) -- (872,3640) .. controls (870,3720) and (860,3780) .. (c13);
\draw[ed] (R04731) -- (c5239);
\draw[ed] (R04731) -- (w5);
\draw[ed] (co2) -- (R04732);
\draw[ed] (c5239) -- (R04732);
\draw[ed] (R04732) -- (c5516);
\draw[ed] (co3) -- (R04857);
\draw[ed] (nh3) -- (R04857);
\draw[ed] (c5516) -- (R04857);
\draw[ed] (R04857) -- (c5515);
\draw[ed] (R04857) -- (w6);
\draw[ed] (c5515) -- (R02141);
\draw[ed] (R02141) -- (w7);
\draw[ed] (R02141) -- (c385);
\draw[ed] (nadh2) -- (R01768);
\draw[ed] (c80b) -- (R01768);
\draw[ed] (c385) .. controls (690,3100) and (600,3140) .. (R01768);
\draw[ed] (R01768) .. controls (370,3200) and (320,3230) .. (c262);
\draw[ed] (R01768) -- (w8);
\draw[ed] (R01768) -- (nad2);
\draw[ed] (c262) .. controls (320,3410) and (380,3445) .. (R01244);
\draw[ed] (nh4) .. controls (765,3420) and (640,3450) .. (R01244);
\draw[ed] (R01244) -- (c147);
\draw[ed] (R01244) -- (w9);
\draw[ed] (c147) -- (R00182);
\draw[ed] (c147) .. controls (500,3690) and (580,3715) .. (R00190);
\draw[ed] (c119) -- (R00190);
\draw[ed] (c117) -- (148,3470) .. controls (150,3590) and (250,3660) .. (R00182);
\draw[ed] (R00182) -- (w10);
\draw[ed] (R00182) -- (c20);
\draw[ed] (R00190) -- (c20);
\draw[ed] (R00190) -- (c13);
\draw[ed] (e1) .. controls (385,3935) and (480,3975) .. (R03876);
\draw[ed] (c20) -- (R03876);
\draw[ed] (c13.south west) -- (R03876);
\draw[ed] (R03876) .. controls (550,4040) and (515,4070) .. (e2);
\draw[ed] (R03876) -- (c2188);
\draw[ed] (R03876) -- (c2b);
\draw[ed] (R00286) .. controls (1760,865) and (1700,910) .. (c80a);
\draw[ed] (R00286) -- (c167);
\draw[ed] (R00286) -- (nadh1);
\draw[ed] (c167) -- (R01384);
\draw[ed] (R01384) .. controls (1825,1220) and (1795,1250) .. (co1);
\draw[ed] (R01384) -- (c190);
\end{tikzpicture}
\end{document}
